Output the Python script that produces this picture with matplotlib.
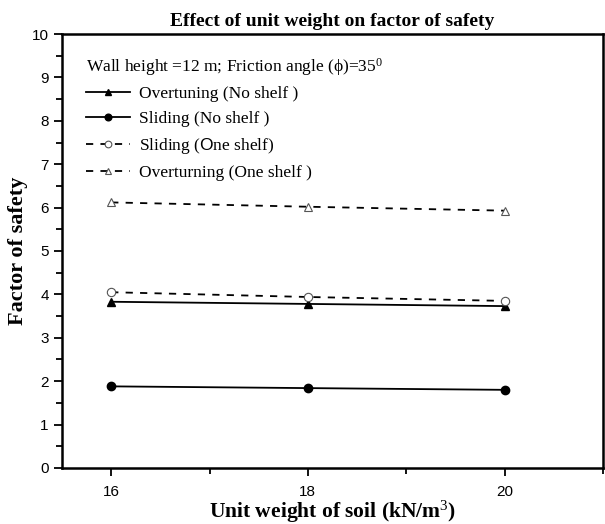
import numpy as np
import matplotlib
matplotlib.use('Agg')
import matplotlib.pyplot as plt
from matplotlib.ticker import MultipleLocator

plt.rcParams['mathtext.fontset'] = 'custom'
plt.rcParams['mathtext.rm'] = 'Liberation Serif'
plt.rcParams['mathtext.it'] = 'Liberation Serif:italic'
plt.rcParams['mathtext.bf'] = 'Liberation Serif:bold'
plt.rcParams['mathtext.sf'] = 'Liberation Sans'

# Data
unit_weight = [16, 18, 20]
overturning_no_shelf = [3.83, 3.78, 3.73]
sliding_no_shelf = [1.88, 1.84, 1.80]
sliding_one_shelf = [4.05, 3.94, 3.85]
overturning_one_shelf = [6.12, 6.02, 5.93]

fig = plt.figure(figsize=(6.05, 5.24), dpi=100)
ax = fig.add_axes([0.1025, 0.107, 0.894, 0.828])

ax.plot(unit_weight, overturning_no_shelf, '-', color='black', lw=1.3,
        marker='^', ms=6, mfc='black', label='Overtuning (No shelf )')
ax.plot(unit_weight, sliding_no_shelf, '-', color='black', lw=1.3,
        marker='o', ms=6, mfc='black', label='Sliding (No shelf )')
ax.plot(unit_weight, sliding_one_shelf, '--', color='black', lw=1.3, dashes=(4, 4),
        marker='o', ms=6, mfc='white', mec='#555555', mew=0.8,
        label=r'Sliding ($\mathsf{O}$ne shelf)')
ax.plot(unit_weight, overturning_one_shelf, '--', color='black', lw=1.3, dashes=(4, 4),
        marker='^', ms=6, mfc='white', mec='#555555', mew=0.8,
        label='Overturning (One shelf )')

ax.set_xlim(15.5, 21)
ax.set_ylim(0, 10)
ax.xaxis.set_major_locator(MultipleLocator(2))
ax.xaxis.set_minor_locator(MultipleLocator(1))
ax.yaxis.set_major_locator(MultipleLocator(1))
ax.yaxis.set_minor_locator(MultipleLocator(0.5))
ax.tick_params(which='both', direction='out', width=1.3, top=False, right=False)
ax.tick_params(which='major', length=6, labelsize=11)
ax.tick_params(which='minor', length=4)
ax.tick_params(axis='x', which='major', pad=6)
for lab in ax.get_xticklabels() + ax.get_yticklabels():
    lab.set_fontfamily('Liberation Sans')
for s in ax.spines.values():
    s.set_linewidth(1.8)

ax.set_title('Effect of unit weight on factor of safety', fontfamily='Liberation Serif',
             fontweight='bold', fontsize=14, pad=6)
ax.set_xlabel(r'Unit weight of soil (kN/m$^{3}$)', fontfamily='Liberation Serif',
              fontweight='bold', fontsize=15.5, labelpad=0)
ax.set_ylabel('Factor of safety', fontfamily='Liberation Serif',
              fontweight='bold', fontsize=16, labelpad=3)

leg = ax.legend(loc='upper left', frameon=False, prop={'family': 'Liberation Serif', 'size': 12.5},
                title=r'Wall height =12 m; Friction angle ($\mathrm{\phi}$)=35$^0$',
                title_fontproperties={'family': 'Liberation Serif', 'size': 12.5},
                handlelength=2.5, handletextpad=0.55, labelspacing=0.5,
                borderpad=0, borderaxespad=0, bbox_to_anchor=(0.045, 0.95),
                markerscale=0.8)
leg._legend_box.align = 'left'

fig.savefig('out.png', dpi=100)
